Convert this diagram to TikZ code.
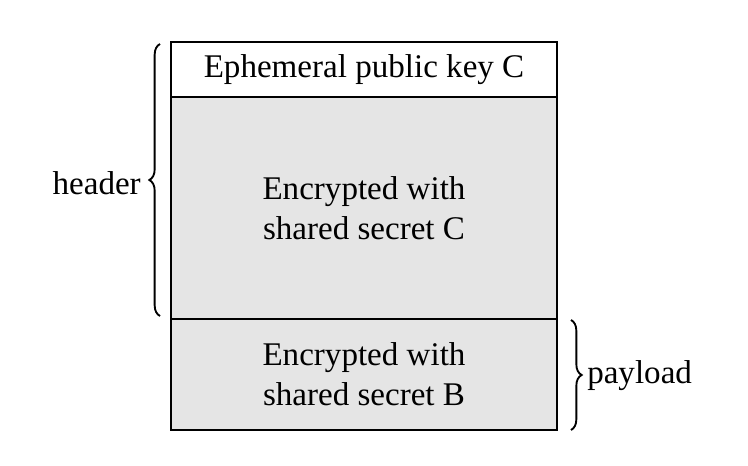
\documentclass[tikz,border=0pt]{standalone}
\usepackage{fontspec}
\setmainfont{Liberation Serif}
\usetikzlibrary{decorations.pathreplacing}
\begin{document}
\begin{tikzpicture}[x=0.75pt,y=-0.75pt,
  cell/.style={draw=black,line width=1.1pt},
  lbl/.style={font=\fontsize{24.8}{30}\selectfont,align=center,inner sep=0pt},
  brc/.style={decorate,decoration={brace,amplitude=8pt},line width=1.4pt}]
\useasboundingbox (0,0) rectangle (748,466);
\fill[white] (0,0) rectangle (748,466);
\draw[cell] (171,42) rectangle (557,97);
\draw[cell,fill=black!10] (171,97) rectangle (557,319);
\draw[cell,fill=black!10] (171,319) rectangle (557,430);
\node[lbl] (eph) at (364,70) {Ephemeral public key C};
\node[lbl] (encc) at (364,208) {Encrypted with\\shared secret C};
\node[lbl] (encb) at (364,374) {Encrypted with\\shared secret B};
\coordinate (lb1) at (160,316);
\coordinate (lt1) at (160,44);
\coordinate (rt1) at (571,320);
\coordinate (rb1) at (571,430);
\draw[brc] (lb1) -- (lt1);
\draw[brc] (rt1) -- (rb1);
\node[lbl,anchor=east] (hdr) at (141,183) {header};
\node[lbl,anchor=west] (pay) at (587,376) {payload};
\end{tikzpicture}
\end{document}
